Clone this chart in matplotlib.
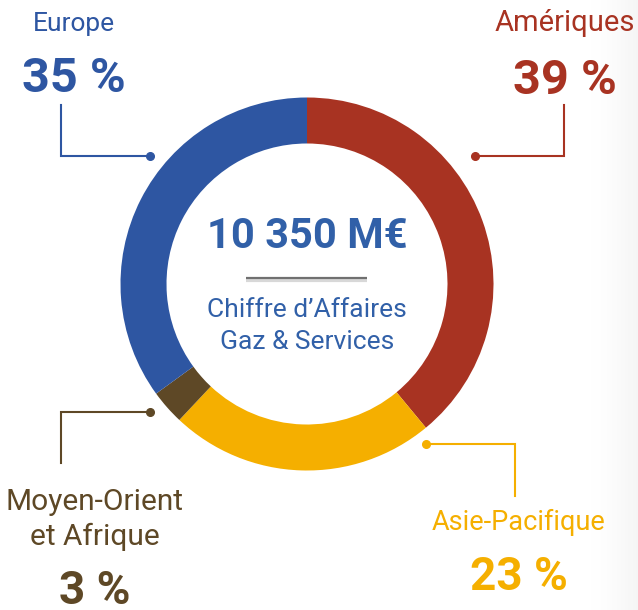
""" Répartition du chiffre d'affaires Gaz & Services par zone géographique. """
import numpy as np
import matplotlib as mpl
mpl.use('Agg')
import matplotlib.pyplot as plt

plt.rcParams['font.family'] = ['Roboto', 'DejaVu Sans']

# ---- data ----
regions = ['Amériques', 'Asie-Pacifique', 'Moyen-Orient\net Afrique', 'Europe']
shares = [39, 23, 3, 35]
colors = ['#A83322', '#F5AF00', '#5E4826', '#2E56A2']
total_ca = '10 350 M€'
center_caption = 'Chiffre d\u2019Affaires\nGaz & Services'

W, H = 638, 610
cx, cy = 307, 284
r_out, ring = 186.5, 46

fig = plt.figure(figsize=(W / 100, H / 100), dpi=100)
ax = fig.add_axes([0, 0, 1, 1])

# y axis runs downwards (pixel-like), so pie starts at -90 going counterclock
# in data space, which is clockwise from the top on screen
ax.pie(shares, colors=colors, startangle=-90, counterclock=True,
       center=(cx, cy), radius=r_out,
       wedgeprops=dict(width=ring, linewidth=0))

ax.set_xlim(0, W)
ax.set_ylim(H, 0)
ax.set_aspect('equal')
ax.axis('off')

# light grey fade on the right edge
grad = np.linspace(0, 1, 60)[None, :] ** 2
ax.imshow(grad, extent=(578, W, H, 0), cmap='Greys', vmin=0, vmax=12,
          aspect='auto', zorder=0)

# ---- centre text ----
blue_txt = '#3160A8'
ax.text(cx, 248, total_ca, ha='center', va='baseline', fontsize=30,
        fontweight='bold', color=blue_txt)
ax.plot([246, 367], [280, 280], color='#d8d8d8', lw=3, solid_capstyle='butt')
ax.plot([246, 367], [278, 278], color='#707070', lw=1.6, solid_capstyle='butt')
cap_lines = center_caption.split('\n')
ax.text(cx, 317, cap_lines[0], ha='center', va='baseline', fontsize=19, color=blue_txt)
ax.text(cx, 349, cap_lines[1], ha='center', va='baseline', fontsize=19, color=blue_txt)


def callout(path, color):
    xs, ys = zip(*path)
    ax.plot(xs, ys, color=color, lw=1.5, solid_joinstyle='miter')
    ax.plot(xs[-1], ys[-1], 'o', color=color, ms=5.5)


# Amériques
c = colors[0]
ax.text(565, 31, regions[0], ha='center', va='baseline', fontsize=21, color=c)
ax.text(565, 94, f'{shares[0]} %', ha='center', va='baseline', fontsize=35,
        fontweight='bold', color=c)
callout([(564, 105), (564, 156), (475, 156)], c)

# Asie-Pacifique
c = colors[1]
ax.text(519, 530, regions[1], ha='center', va='baseline', fontsize=19.5, color=c)
ax.text(519, 590, f'{shares[1]} %', ha='center', va='baseline', fontsize=33,
        fontweight='bold', color=c)
callout([(515, 496), (515, 444), (426, 444)], c)

# Moyen-Orient et Afrique
c = colors[2]
mo_lines = regions[2].split('\n')
ax.text(95, 510, mo_lines[0], ha='center', va='baseline', fontsize=21.5, color=c)
ax.text(95, 545, mo_lines[1], ha='center', va='baseline', fontsize=21.5, color=c)
ax.text(95, 604, f'{shares[2]} %', ha='center', va='baseline', fontsize=33,
        fontweight='bold', color=c)
callout([(61, 463), (61, 412), (150, 412)], c)

# Europe
c = colors[3]
ax.text(74, 31, regions[3], ha='center', va='baseline', fontsize=19, color=c)
ax.text(74, 92, f'{shares[3]} %', ha='center', va='baseline', fontsize=35,
        fontweight='bold', color=c)
callout([(61, 105), (61, 156), (150, 156)], c)

fig.savefig('out.png', dpi=100)
